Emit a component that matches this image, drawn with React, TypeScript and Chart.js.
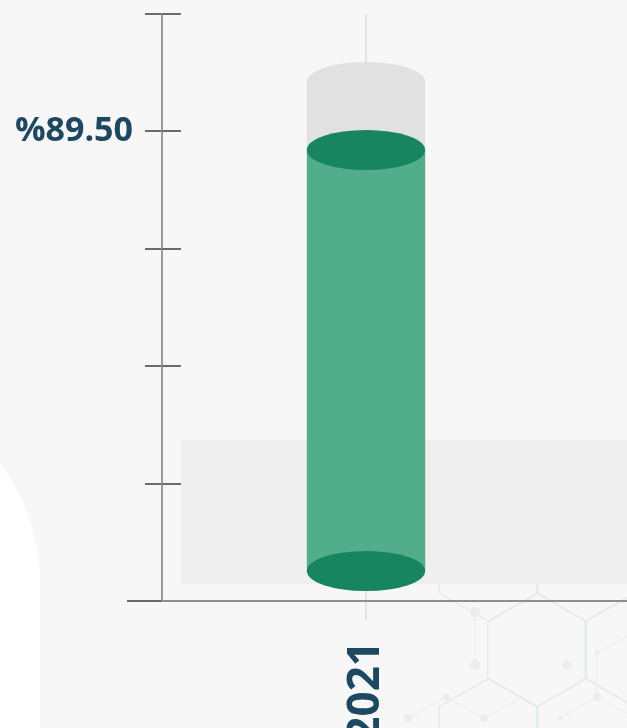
import { useEffect, useRef } from 'react';
import { Chart, registerables } from 'chart.js';

Chart.register(...registerables);

// ---- data ----
const categories = ['2021'];
const values = [89.5];
const trackValues = [100];
const labelledValue = values[0];
const tickIntervals = 4; // ticks at value * i / 4

const FONT = '"Open Sans", "Noto Sans", sans-serif';
const LABEL_COLOR = '#1d4861';
const DEPTH = 30; // 3D depth offset of the column base
const RY = 20; // ellipse vertical radius
const CYL_MIN = 19.86;
const CYL_MAX = 110.5;

function hexPath(ctx: CanvasRenderingContext2D, cx: number, cy: number, r: number) {
  ctx.beginPath();
  for (let i = 0; i < 6; i++) {
    const a = (-90 + 60 * i) * Math.PI / 180;
    const px = cx + r * Math.cos(a);
    const py = cy + r * Math.sin(a);
    if (i === 0) ctx.moveTo(px, py); else ctx.lineTo(px, py);
  }
  ctx.closePath();
  ctx.stroke();
}

const backgroundPlugin = {
  id: 'decorBackground',
  beforeDraw(chart: any) {
    const { ctx, width, height } = chart;
    ctx.save();
    ctx.fillStyle = '#f7f7f7';
    ctx.fillRect(0, 0, width, height);
    // white rounded shape at left
    ctx.fillStyle = '#ffffff';
    ctx.beginPath();
    ctx.moveTo(40, height + 10);
    ctx.lineTo(40, 583);
    ctx.arc(-160, 583, 200, 0, -Math.PI / 2, true);
    ctx.lineTo(-400, 383);
    ctx.lineTo(-400, height + 10);
    ctx.closePath();
    ctx.fill();
    // faint molecular hexagons
    ctx.strokeStyle = '#e4ece8';
    ctx.lineWidth = 1.5;
    const r = 57;
    const hexes = [
      [537, 650], [634.5, 650], [488.5, 735.5], [586, 735.5],
      [488.5, 564.5], [586, 564.5], [683, 564.5], [683, 735.5],
    ];
    hexes.forEach(([x, y]) => hexPath(ctx, x, y, r));
    // faint network nodes
    ctx.strokeStyle = '#e9efec';
    ctx.lineWidth = 1.2;
    const links = [
      [[408, 718], [446, 697]], [[446, 697], [484, 718]], [[484, 718], [522, 697]],
      [[475, 612], [475, 665]], [[597, 653], [597, 697]], [[597, 653], [627, 636]],
      [[560, 718], [597, 697]], [[597, 697], [627, 714]],
    ];
    links.forEach(([a, b]) => {
      ctx.beginPath();
      ctx.moveTo(a[0], a[1]);
      ctx.lineTo(b[0], b[1]);
      ctx.stroke();
    });
    ctx.fillStyle = '#e7eeeb';
    const nodes = [
      [446, 697, 3.5], [408, 718, 4], [484, 718, 4], [597, 697, 4], [597, 653, 2.5],
      [475, 612, 5], [475, 665, 5], [567, 665, 5], [560, 718, 2.5],
    ];
    nodes.forEach(([x, y, rr]) => {
      ctx.beginPath();
      ctx.arc(x, y, rr, 0, Math.PI * 2);
      ctx.fill();
    });
    // light grey band
    ctx.fillStyle = '#efefef';
    ctx.fillRect(181, 440, width - 181, 144);
    ctx.restore();
  },
};

function ellipse(ctx: CanvasRenderingContext2D, x: number, y: number, rx: number, ry: number) {
  ctx.beginPath();
  ctx.ellipse(x, y, rx, ry, 0, 0, Math.PI * 2);
  ctx.fill();
}

const cylinderPlugin = {
  id: 'cylinders',
  afterDatasetsDraw(chart: any) {
    const { ctx } = chart;
    ctx.save();
    chart.data.datasets.forEach((ds: any, di: number) => {
      const meta = chart.getDatasetMeta(di);
      meta.data.forEach((el: any) => {
        const { x, y, base, width } = el.getProps(['x', 'y', 'base', 'width'], true);
        const rx = width / 2;
        const baseY = base - DEPTH;
        ctx.fillStyle = ds.cylBody;
        ctx.fillRect(x - rx, y, width, baseY - y);
        ctx.fillStyle = ds.cylBottom;
        ellipse(ctx, x, baseY, rx, RY);
        ctx.fillStyle = ds.cylCap;
        ellipse(ctx, x, y, rx, RY);
      });
    });
    ctx.restore();
  },
};

const axisPlugin = {
  id: 'axisExtras',
  afterDraw(chart: any) {
    const { ctx, chartArea, width } = chart;
    const ys = chart.scales.y;
    ctx.save();
    ctx.lineWidth = 2;
    // extend x axis to the right edge
    ctx.strokeStyle = '#8f8f8f';
    ctx.beginPath();
    ctx.moveTo(chartArea.right - 1, chartArea.bottom);
    ctx.lineTo(width, chartArea.bottom);
    ctx.stroke();
    // tick marks crossing the y axis
    ctx.strokeStyle = '#6b6b6b';
    ys.ticks.forEach((t: any, i: number) => {
      const py = Math.round(ys.getPixelForTick(i));
      ctx.beginPath();
      if (t.value === 0) {
        ctx.moveTo(chartArea.left - 35, py);
        ctx.lineTo(chartArea.left, py);
      } else {
        ctx.moveTo(chartArea.left, py);
        ctx.lineTo(chartArea.left + 19, py);
      }
      ctx.stroke();
    });
    ctx.restore();
  },
};

export default function App() {
  const ref = useRef<HTMLCanvasElement>(null);

  useEffect(() => {
    if (!ref.current) return;
    const chart = new Chart(ref.current, {
      type: 'bar',
      data: {
        labels: categories,
        datasets: [
          {
            label: 'track',
            data: trackValues,
            yAxisID: 'yc',
            grouped: false,
            base: CYL_MIN,
            backgroundColor: 'rgba(0,0,0,0)',
            borderWidth: 0,
            cylBody: '#e1e1e1',
            cylCap: '#e1e1e1',
            cylBottom: '#e1e1e1',
          } as any,
          {
            label: '2021',
            data: values,
            yAxisID: 'yc',
            grouped: false,
            base: CYL_MIN,
            backgroundColor: 'rgba(0,0,0,0)',
            borderWidth: 0,
            cylBody: '#52ad8c',
            cylCap: '#17855f',
            cylBottom: '#17855f',
          } as any,
        ],
      },
      options: {
        responsive: false,
        animation: false,
        devicePixelRatio: 1,
        categoryPercentage: 0.29,
        barPercentage: 1,
        layout: { padding: { top: 14, right: 57, left: 0, bottom: 0 } },
        plugins: { legend: { display: false }, tooltip: { enabled: false } },
        scales: {
          x: {
            type: 'category',
            offset: true,
            grid: { offset: false, color: '#e2e2e2', lineWidth: 2, tickLength: 19, drawTicks: true },
            border: { color: '#8f8f8f', width: 2 },
            ticks: {
              minRotation: 90,
              maxRotation: 90,
              padding: 21,
              color: LABEL_COLOR,
              font: { family: FONT, size: 44, weight: 'bold' },
            },
            afterFit: (s: any) => { s.height = 127; },
          },
          y: {
            type: 'linear',
            position: 'left',
            min: 0,
            max: labelledValue * (tickIntervals + 1) / tickIntervals,
            afterBuildTicks: (s: any) => {
              const t = [];
              for (let i = 0; i <= tickIntervals + 1; i++) t.push({ value: (labelledValue * i) / tickIntervals });
              s.ticks = t;
            },
            grid: { drawOnChartArea: false, drawTicks: true, tickLength: 17, color: '#6b6b6b', lineWidth: 2 },
            border: { color: '#9a9a9a', width: 2 },
            ticks: {
              padding: 12,
              color: LABEL_COLOR,
              callback: (v: any) => (Math.abs(Number(v) - labelledValue) < 1e-9 ? '%' + Number(v).toFixed(2) : ''),
              font: (c: any) =>
                c.tick && Math.abs(c.tick.value - labelledValue) < 1e-9
                  ? { family: FONT, size: 34, weight: 'bold' }
                  : { family: FONT, size: 1 },
            },
            afterFit: (s: any) => { s.width = 162; },
          },
          yc: {
            type: 'linear',
            display: false,
            min: CYL_MIN,
            max: CYL_MAX,
          },
        },
      } as any,
      plugins: [backgroundPlugin, cylinderPlugin, axisPlugin],
    });
    return () => chart.destroy();
  }, []);

  return (
    <div style={{ position: 'fixed', left: 0, top: 0, width: 627, height: 728, overflow: 'hidden', background: '#f7f7f7' }}>
      <canvas ref={ref} width={627} height={728} style={{ display: 'block', width: 627, height: 728 }} />
    </div>
  );
}
